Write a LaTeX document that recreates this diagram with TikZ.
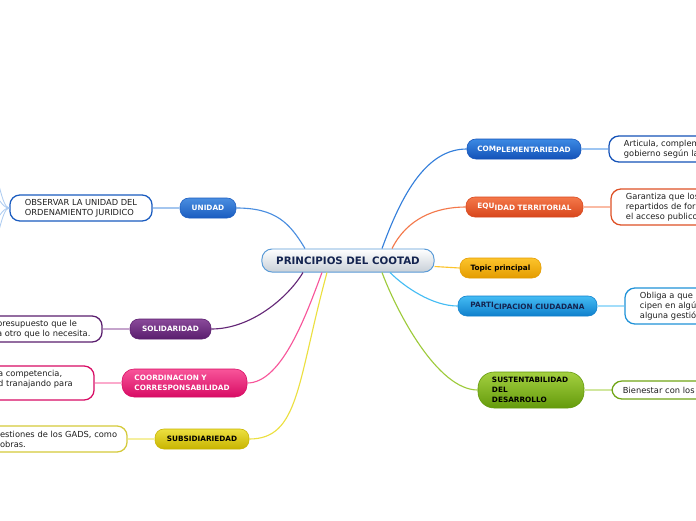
\documentclass[tikz,border=0pt]{standalone}
\usepackage{fontspec}
\setmainfont{DejaVu Sans}
\usepackage{tikz}
\usetikzlibrary{positioning,calc}
\definecolor{cenline}{RGB}{90,155,215}
\definecolor{cenfill}{RGB}{200,208,216}
\definecolor{cennavy}{RGB}{20,36,80}
\definecolor{leaftext}{RGB}{30,30,30}
\definecolor{ublue1}{RGB}{74,142,224}
\definecolor{ublue2}{RGB}{26,92,192}
\definecolor{purp1}{RGB}{138,74,154}
\definecolor{purp2}{RGB}{90,30,110}
\definecolor{pink1}{RGB}{248,85,154}
\definecolor{pink2}{RGB}{216,12,100}
\definecolor{yel1}{RGB}{236,224,64}
\definecolor{yel2}{RGB}{200,180,0}
\definecolor{cblue1}{RGB}{60,138,228}
\definecolor{cblue2}{RGB}{20,82,184}
\definecolor{ora1}{RGB}{244,120,74}
\definecolor{ora2}{RGB}{216,70,28}
\definecolor{gold1}{RGB}{252,196,44}
\definecolor{gold2}{RGB}{228,156,0}
\definecolor{cyan1}{RGB}{68,188,244}
\definecolor{cyan2}{RGB}{16,128,204}
\definecolor{grn1}{RGB}{164,208,64}
\definecolor{grn2}{RGB}{100,154,12}

\begin{document}
\begin{tikzpicture}[
    x=0.025cm, y=-0.025cm,
    node distance=0.675cm,
    topic/.style={rectangle, rounded corners=0.25cm, draw=cenline, line width=0.7pt,
        top color=white, bottom color=cenfill, minimum width=4.3cm, minimum height=0.575cm,
        font=\bfseries\fontsize{7.3}{8}\selectfont, text=cennavy},
    branch/.style 2 args={rectangle, rounded corners=0.22cm, draw=#2, line width=0.4pt,
        top color=#1, bottom color=#2, minimum height=0.5cm, inner sep=0pt,
        font=\bfseries\fontsize{5.2}{7}\selectfont, text=white},
    leaf/.style={rectangle, rounded corners=0.25cm, draw=#1, line width=0.9pt, fill=white,
        align=left, inner xsep=0.375cm, inner ysep=1pt, minimum height=0.65cm,
        font=\fontsize{5.9}{7.1}\selectfont, text=leaftext},
    link/.style={draw=#1, line width=0.8pt}
]
    \useasboundingbox (0,0) rectangle (696,520);
    \clip (0,0) rectangle (696,520);
    \fill[white] (0,0) rectangle (696,520);

    % Central topic
    \node[topic] (cen) at (348,260.5) {PRINCIPIOS DEL COOTAD};

    % Left side
    \node[branch={ublue1}{ublue2}, minimum width=1.4cm] (unidad) at (208,208) {UNIDAD};
    \node[leaf=ublue2, left=of unidad] (obs) {OBSERVAR LA UNIDAD DEL\\ORDENAMIENTO JURIDICO};

    \node[branch={purp1}{purp2}, minimum width=2.025cm] (solid) at (170.5,329) {SOLIDARIDAD};
    \node[leaf=purp2, text width=2.25cm, left=of solid] (solidleaf)
        {\mbox{presupuesto que le}\\\mbox{a otro que lo necesita.}};

    \node[branch={pink1}{pink2}, minimum width=3.125cm, minimum height=0.7cm, rounded corners=0.3cm,
        align=left, text width=2.5cm] (coord) at (184.5,383) {COORDINACION Y\\CORRESPONSABILIDAD};
    \node[leaf=pink2, text width=2.025cm, minimum height=0.85cm, left=of coord] (coordleaf)
        {\mbox{a competencia,}\\\mbox{d tranajando para}\\\mbox{}};

    \node[branch={yel1}{yel2}, minimum width=2.35cm, text=black] (subs) at (202,439) {SUBSIDIARIEDAD};
    \node[leaf=yel1!90!black, text width=2.8cm, left=of subs] (subsleaf)
        {\mbox{estiones de los GADS, como}\\\mbox{obras.}};

    % Right side
    \node[branch={cblue1}{cblue2}, minimum width=2.85cm] (compl) at (524,149) {\raisebox{1pt}{COM}PLEMENTARIEDAD};
    \node[leaf=cblue2, text width=3.5cm, right=of compl] (complleaf) {Articula, complem\\gobierno según la};

    \node[branch={ora1}{ora2}, minimum width=2.925cm] (equi) at (524.5,207) {\raisebox{1pt}{EQU}IDAD TERRITORIAL};
    \node[leaf=ora2!80!ora1, text width=3.5cm, minimum height=0.9cm, right=of equi] (equileaf) {Garantiza que los\\repartidos de form\\el acceso publico.};

    \node[branch={gold1}{gold2}, minimum width=2.025cm, text=black] (tp) at (500.5,268) {Topic principal};

    \node[branch={cyan1}{cyan2}, minimum width=3.475cm, text=cennavy] (parti) at (527.5,306) {\raisebox{1pt}{PARTI}CIPACION CIUDADANA};
    \node[leaf=cyan2!70!cyan1, text width=3.5cm, minimum height=0.9cm, right=of parti] (partileaf) {Obliga a que lo\\cipen en algún\\alguna gestión};

    \node[branch={grn1}{grn2}, minimum width=2.65cm, minimum height=0.9cm, rounded corners=0.4cm,
        align=left, text width=1.95cm, text=black] (sust) at (531,390) {SUSTENTABILIDAD\\DEL\\DESARROLLO};
    \node[leaf=grn2!80!grn1, text width=3.5cm, minimum height=0.45cm, inner xsep=0.275cm, right=of sust] (sustleaf) {Bienestar con los c};

    % Curves from the central topic
    \draw[link=ublue1] (unidad.east) .. controls +(40,0) and +(-15,-25) .. ([xshift=-1.075cm]cen.north);
    \draw[link=purp2!80!purp1] (solid.east) .. controls +(40,0) and +(-15,25) .. ([xshift=-1.125cm]cen.south);
    \draw[link=pink1] (coord.east) .. controls +(35,0) and +(-15,40) .. ([xshift=-0.65cm]cen.south);
    \draw[link=yel1] (subs.east) .. controls +(50,0) and +(-30,110) .. ([xshift=-0.525cm]cen.south);
    \draw[link=cblue1!80!cblue2] ([xshift=0.85cm]cen.north) .. controls +(20,-55) and +(-40,0) .. (compl.west);
    \draw[link=ora1] ([xshift=1.1cm]cen.north) .. controls +(15,-30) and +(-30,0) .. (equi.west);
    \draw[link=gold1] ([yshift=-0.15cm]cen.east) .. controls +(12,0) and +(-12,0) .. (tp.west);
    \draw[link=cyan1] ([xshift=1.05cm]cen.south) .. controls +(15,15) and +(-25,0) .. (parti.west);
    \draw[link=grn1!90!grn2] ([xshift=0.85cm]cen.south) .. controls +(15,40) and +(-40,0) .. (sust.west);

    % Branch to leaf
    \draw[link=ublue1!50] (unidad) -- (obs);
    \draw[link=purp1!50] (solid) -- (solidleaf);
    \draw[link=pink1!50] (coord) -- (coordleaf);
    \draw[link=yel1!50] (subs) -- (subsleaf);
    \draw[link=cblue1!50] (compl) -- (complleaf);
    \draw[link=ora1!50] (equi) -- (equileaf);
    \draw[link=cyan1!50] (parti) -- (partileaf);
    \draw[link=grn1!50] (sust) -- (sustleaf);

    % Fan out of the left leaf
    \coordinate (o1) at (-8,170);
    \coordinate (o2) at (-8,194);
    \coordinate (o3) at (-8,222);
    \coordinate (o4) at (-8,246);
    \foreach \o in {o1,o2,o3,o4}
        \draw[link=ublue1!45, line width=0.6pt] (obs.west) .. controls +(-8,0) and +(6,0) .. (\o);
\end{tikzpicture}
\end{document}
